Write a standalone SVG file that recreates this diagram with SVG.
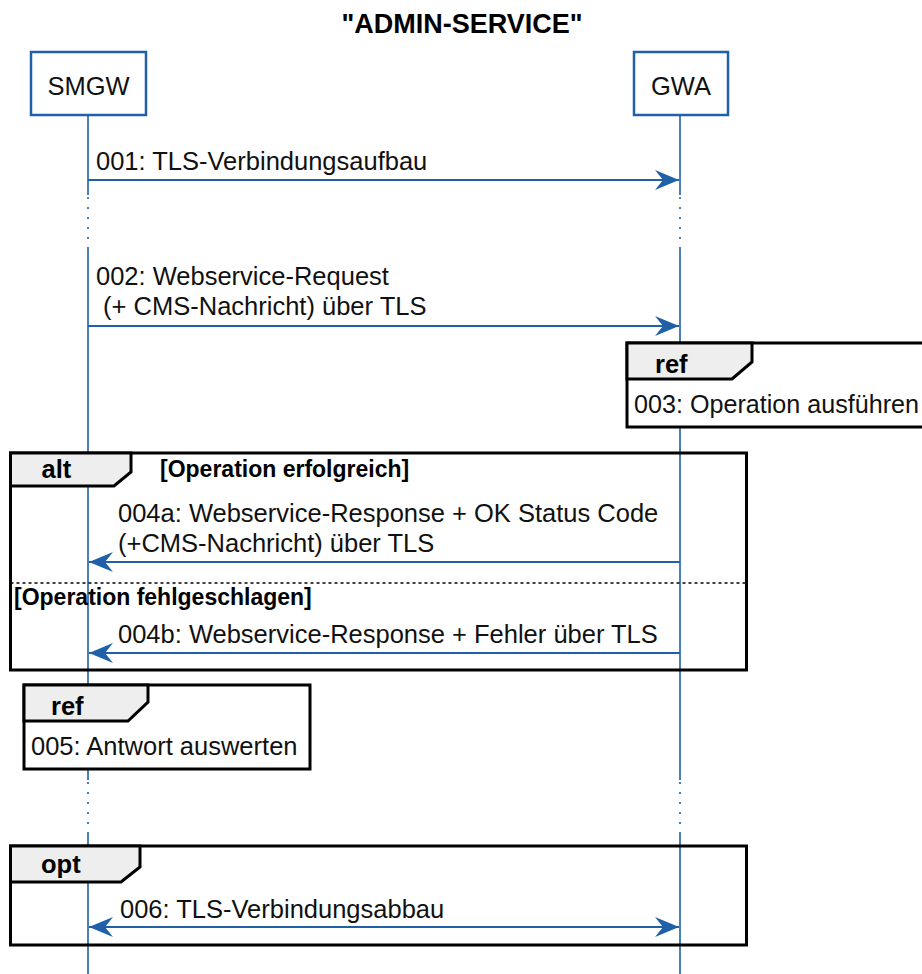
<svg xmlns="http://www.w3.org/2000/svg" width="922" height="974" viewBox="0 0 922 974">
<style>
.t{font-family:"Liberation Sans",Arial,sans-serif;font-size:25.5px;fill:#111}
.b{font-family:"Liberation Sans",Arial,sans-serif;font-weight:bold;fill:#000}
.life{stroke:#1f60a8;stroke-width:1.6;fill:none}
.dot{stroke:#1f60a8;stroke-width:1.6;stroke-dasharray:2 8;fill:none}
.part{fill:#fff;stroke:#1f60a8;stroke-width:2.5}
.msg{stroke:#1f60a8;stroke-width:2;fill:none}
.frame{fill:none;stroke:#000;stroke-width:3}
.ref{fill:#fff;stroke:#000;stroke-width:3}
.tab{fill:#eeeeee;stroke:#000;stroke-width:3;stroke-linejoin:miter}
.sep{stroke:#000;stroke-width:1.5;stroke-dasharray:3 3}
</style>
<defs>
<marker id="ah" viewBox="-25 -11 26 22" refX="0" refY="0" markerWidth="26" markerHeight="22" markerUnits="userSpaceOnUse" orient="auto-start-reverse">
<path d="M0,0 L-24,-10 L-16,0 L-24,10 Z" fill="#1f60a8"/>
</marker>
</defs>

<text class="b" x="462" y="33" font-size="27" text-anchor="middle">"ADMIN-SERVICE"</text>

<g id="lifelines">
<path class="life" d="M88,115V195M88,248V780M88,833V974M680,115V195M680,248V780M680,833V974"/>
<path class="dot" d="M88,197V248M88,782V833M680,197V248M680,782V833"/>
</g>

<g id="SMGW">
<rect class="part" x="31" y="52" width="115" height="63"/>
<text class="t" x="88.5" y="95" text-anchor="middle">SMGW</text>
</g>
<g id="GWA">
<rect class="part" x="634" y="52" width="94" height="63"/>
<text class="t" x="681" y="95" text-anchor="middle">GWA</text>
</g>

<g id="ref003">
<rect class="ref" x="627" y="343" width="310" height="84"/>
<path class="tab" d="M627,343H752V362L732,379H627Z"/>
<text class="b" x="655" y="373" font-size="25.5">ref</text>
<text class="t" x="634" y="413" textLength="285" lengthAdjust="spacingAndGlyphs">003: Operation ausführen</text>
</g>

<g id="alt">
<rect class="frame" x="10.5" y="453" width="736" height="217"/>
<path class="tab" d="M10.5,453H131V472L114,486H10.5Z"/>
<text class="b" x="41.5" y="478" font-size="25.5">alt</text>
<text class="b" x="160" y="477" font-size="23">[Operation erfolgreich]</text>
<line class="sep" x1="10.5" y1="583" x2="746.5" y2="583"/>
<text class="b" x="14" y="605" font-size="23">[Operation fehlgeschlagen]</text>
</g>

<g id="ref005">
<rect class="ref" x="24" y="685" width="286" height="84"/>
<path class="tab" d="M24,685H148V702L128,721H24Z"/>
<text class="b" x="51" y="715" font-size="25.5">ref</text>
<text class="t" x="31" y="755">005: Antwort auswerten</text>
</g>

<g id="opt">
<rect class="frame" x="10.5" y="846" width="736" height="99"/>
<path class="tab" d="M10.5,846H140V867L121,882H10.5Z"/>
<text class="b" x="41" y="873" font-size="25.5">opt</text>
</g>

<g id="connectors">
<line class="msg" x1="88" y1="180" x2="679" y2="180" marker-end="url(#ah)"/>
<line class="msg" x1="88" y1="326" x2="679" y2="326" marker-end="url(#ah)"/>
<line class="msg" x1="680" y1="562" x2="89" y2="562" marker-end="url(#ah)"/>
<line class="msg" x1="680" y1="653" x2="89" y2="653" marker-end="url(#ah)"/>
<line class="msg" x1="89" y1="927" x2="679" y2="927" marker-start="url(#ah)" marker-end="url(#ah)"/>
</g>

<g id="labels">
<text class="t" x="96" y="170">001: TLS-Verbindungsaufbau</text>
<text class="t" x="96" y="285">002: Webservice-Request</text>
<text class="t" x="96" y="315">&#160;(+ CMS-Nachricht) über TLS</text>
<text class="t" x="118" y="522">004a: Webservice-Response + OK Status Code</text>
<text class="t" x="118" y="552">(+CMS-Nachricht) über TLS</text>
<text class="t" x="118" y="643">004b: Webservice-Response + Fehler über TLS</text>
<text class="t" x="120" y="918">006: TLS-Verbindungsabbau</text>
</g>
</svg>
